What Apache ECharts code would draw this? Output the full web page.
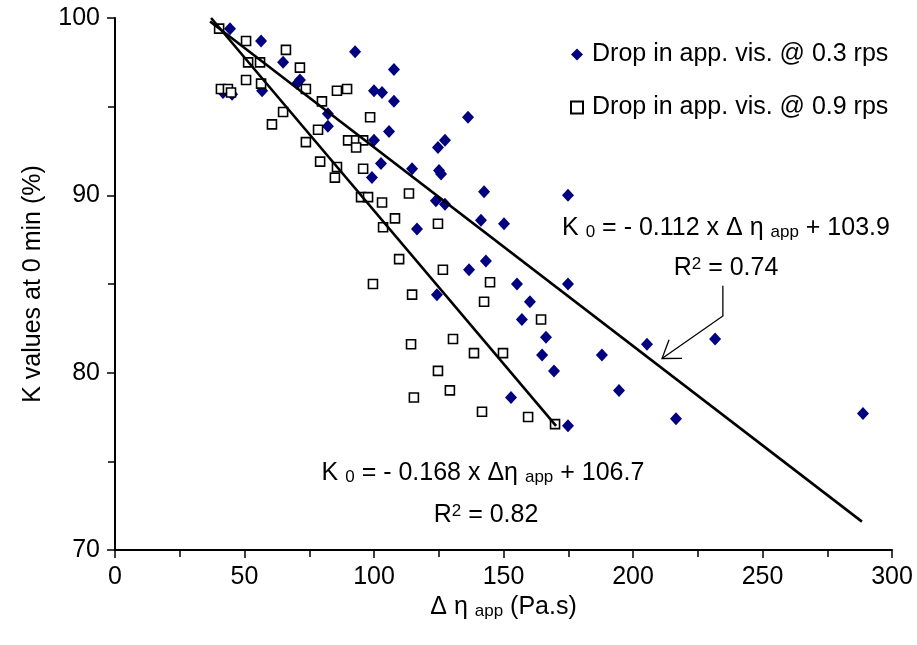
<!DOCTYPE html>
<html><head><meta charset="utf-8">
<script src="https://cdn.jsdelivr.net/npm/echarts@6/dist/echarts.min.js"></script>
<style>html,body{margin:0;padding:0;background:#fff}#c{width:917px;height:645px}</style>
</head><body><div id="c"></div>
<script>
// ---- data ----
const xTicks = [0, 50, 100, 150, 200, 250, 300];
const yTicks = [70, 80, 90, 100];
const name03 = 'Drop in app. vis. @ 0.3 rps';
const name09 = 'Drop in app. vis. @ 0.9 rps';
const drop03 = [
  [44.4,99.4],[56.4,98.7],[64.9,97.5],[71.4,96.5],[70.3,96.3],[56.8,95.9],[41.7,95.8],[45.2,95.7],
  [92.7,98.1],[107.7,97.1],[100.0,95.9],[103.1,95.8],[107.7,95.3],[136.3,94.4],[82.2,94.6],[82.2,93.9],
  [105.8,93.6],[100.0,93.1],[127.4,93.1],[124.7,92.7],[102.7,91.8],[99.2,91.0],[114.7,91.5],[125.1,91.4],
  [125.9,91.2],[123.9,89.7],[127.4,89.5],[116.6,88.1],[136.7,85.8],[124.3,84.4],[142.5,90.2],[174.9,90.0],
  [141.3,88.6],[150.2,88.4],[143.2,86.3],[155.2,85.0],[174.9,85.0],[160.2,84.0],[157.1,83.0],[166.4,82.0],
  [164.9,81.0],[188.0,81.0],[205.4,81.6],[231.7,81.9],[169.5,80.1],[152.9,78.6],[194.6,79.0],[216.6,77.4],
  [288.8,77.7],[174.9,77.0]
];
const drop09 = [
  [40.2,99.4],[50.6,98.7],[66.0,98.2],[51.4,97.5],[56.0,97.5],[71.4,97.2],[50.6,96.5],[56.4,96.3],
  [40.9,96.0],[43.6,96.0],[44.8,95.8],[64.9,94.7],[60.6,94.0],[73.7,96.0],[85.7,95.9],[89.6,96.0],
  [79.9,95.3],[98.5,94.4],[78.4,93.7],[73.7,93.0],[90.0,93.1],[93.1,93.1],[95.8,93.1],[93.1,92.7],
  [79.2,91.9],[85.7,91.6],[84.9,91.0],[95.8,91.5],[95.0,89.9],[97.7,89.9],[103.1,89.6],[113.5,90.1],
  [108.1,88.7],[103.5,88.2],[124.7,88.4],[109.7,86.4],[126.6,85.8],[99.6,85.0],[114.7,84.4],[130.5,81.9],
  [114.3,81.6],[138.6,81.1],[124.7,80.1],[129.3,79.0],[115.4,78.6],[144.8,85.1],[142.5,84.0],[164.5,83.0],
  [149.8,81.1],[141.7,77.8],[159.5,77.5],[169.9,77.1]
];
const fit03 = [[36.7, 99.8], [288.4, 71.6]];
const fit09 = [[37.1, 100.0], [170.3, 77.0]];
const arrowPath = [[234.7, 84.9], [234.7, 83.2], [211.2, 80.8]];

const FONT = '"Liberation Sans", Arial, Helvetica, sans-serif';
const FS = 25;
const chart = echarts.init(document.getElementById('c'), null, {renderer: 'canvas'});

const richBase = {
  a: {fontSize: FS, fontFamily: FONT, color: '#000', lineHeight: 25, padding: [0,0,6,0], verticalAlign: 'top'},
  s: {fontSize: 17, fontFamily: FONT, color: '#000', lineHeight: 20, verticalAlign: 'bottom'},
  p: {fontSize: 17, fontFamily: FONT, color: '#000', lineHeight: 17, verticalAlign: 'top'},
  b: {fontSize: FS, fontFamily: FONT, color: '#000', lineHeight: 25, padding: [6,0,0,0], verticalAlign: 'bottom'}
};

chart.setOption({
  backgroundColor: '#fff',
  animation: false,
  grid: {left: 115, right: 25, top: 18, bottom: 95, containLabel: false},
  legend: {
    orient: 'vertical', left: 565, top: 37, itemGap: 28, itemWidth: 12, itemHeight: 12,
    data: [name03, name09],
    textStyle: {fontSize: FS, fontFamily: FONT, color: '#000', lineHeight: 25, padding: [0,0,0,4]}
  },
  xAxis: {
    type: 'value', min: xTicks[0], max: xTicks[xTicks.length-1], interval: 50,
    name: '{a|Δ η }{s|app}{a| (Pa.s)}', nameLocation: 'middle', nameGap: 37,
    nameTextStyle: {rich: richBase},
    axisLine: {show: true, onZero: false, lineStyle: {color: '#000', width: 2}},
    axisTick: {show: true, inside: false, length: 8, lineStyle: {color: '#000', width: 1.5}},
    minorTick: {show: true, splitNumber: 2, length: 7, lineStyle: {color: '#000', width: 1.5}},
    axisLabel: {fontSize: FS, fontFamily: FONT, color: '#000', margin: 15},
    splitLine: {show: false}
  },
  yAxis: {
    type: 'value', min: yTicks[0], max: yTicks[yTicks.length-1], interval: 10,
    name: 'K values at 0 min (%)', nameLocation: 'middle', nameGap: 69,
    nameTextStyle: {fontSize: FS, fontFamily: FONT, color: '#000'},
    axisLine: {show: true, onZero: false, lineStyle: {color: '#000', width: 2}},
    axisTick: {show: true, inside: false, length: 8, lineStyle: {color: '#000', width: 1.5}},
    minorTick: {show: true, splitNumber: 2, length: 7, lineStyle: {color: '#000', width: 1.5}},
    axisLabel: {fontSize: FS, fontFamily: FONT, color: '#000', margin: 15},
    splitLine: {show: false}
  },
  series: [
    {name: name03, type: 'scatter', data: drop03, symbol: 'diamond', symbolSize: [12, 13],
     itemStyle: {color: '#000080', opacity: 1}, z: 2},
    {name: name09, type: 'scatter', data: drop09, symbol: 'rect', symbolSize: 9,
     itemStyle: {color: '#fff', borderColor: '#000', borderWidth: 1.6, opacity: 1}, z: 3},
    {name: 'fit03', type: 'line', data: fit03, showSymbol: false, symbol: 'none', silent: true,
     lineStyle: {color: '#000', width: 2.6}, z: 4},
    {name: 'fit09', type: 'line', data: fit09, showSymbol: false, symbol: 'none', silent: true,
     lineStyle: {color: '#000', width: 2.6}, z: 4}
  ]
});

// annotations
const pts = arrowPath.map(p => chart.convertToPixel({gridIndex: 0}, p));
const tip = pts[2], prev = pts[1];
const ang = Math.atan2(tip[1]-prev[1], tip[0]-prev[0]);
const L = 20, spread = 0.6;
const b1 = [tip[0]-L*Math.cos(ang-spread), tip[1]-L*Math.sin(ang-spread)];
const b2 = [tip[0]-L*Math.cos(ang+spread), tip[1]-L*Math.sin(ang+spread)];

function txt(x, y, text) {
  return {type: 'text', x: x, y: y, z: 10,
    style: {text: text, rich: richBase, align: 'center', verticalAlign: 'middle',
            textAlign: 'center', textVerticalAlign: 'middle', fill: '#000'}};
}
chart.setOption({
  graphic: [
    txt(726, 228, '{a|K }{s|0}{a| = - 0.112 x Δ η }{s|app}{a| + 103.9}'),
    txt(726, 268, '{b|R}{p|2}{b| = 0.74}'),
    txt(483, 473, '{a|K }{s|0}{a| = - 0.168 x Δη }{s|app}{a| + 106.7}'),
    txt(486, 515, '{b|R}{p|2}{b| = 0.82}'),
    {type: 'polyline', z: 10, shape: {points: pts}, style: {stroke: '#000', lineWidth: 1.3, fill: null}},
    {type: 'polyline', z: 10, shape: {points: [b1, tip, b2]}, style: {stroke: '#000', lineWidth: 1.3, fill: null}}
  ]
});
</script></body></html>
